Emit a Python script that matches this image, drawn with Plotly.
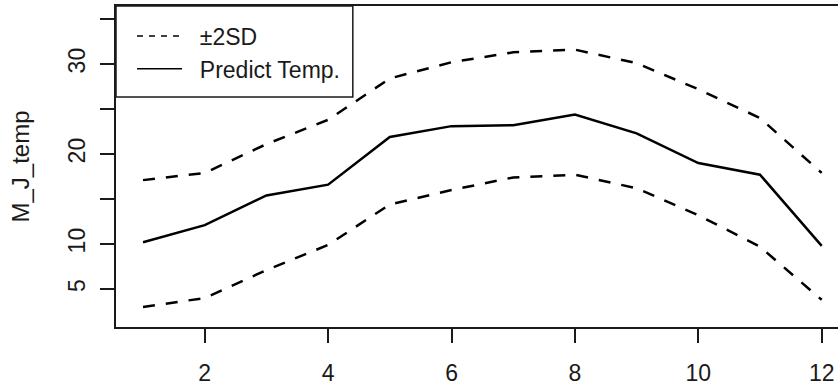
import plotly.graph_objects as go

months = [1, 2, 3, 4, 5, 6, 7, 8, 9, 10, 11, 12]
predict_temp = [10.2, 12.1, 15.4, 16.6, 21.9, 23.1, 23.2, 24.4, 22.3, 19.0, 17.7, 9.8]
upper_2sd = [17.1, 17.9, 21.1, 23.8, 28.4, 30.2, 31.3, 31.6, 30.1, 27.2, 24.0, 17.9]
lower_2sd = [3.0, 4.0, 7.1, 9.9, 14.4, 16.0, 17.4, 17.7, 16.2, 13.2, 9.7, 3.8]

x_ticks = [2, 4, 6, 8, 10, 12]
y_ticks = [5, 10, 15, 20, 25, 30, 35]
y_tick_text = ["5", "10", "", "20", "", "30", ""]

FONT = "Liberation Sans, Arial, sans-serif"
INK = "#1a1a1a"
NB = "\u00a0"
FS = 23

fig = go.Figure()
fig.add_trace(go.Scatter(x=months, y=upper_2sd, mode="lines", showlegend=False,
                         line=dict(color="black", width=2.5, dash="12px,11px")))
fig.add_trace(go.Scatter(x=months, y=lower_2sd, mode="lines", showlegend=False,
                         line=dict(color="black", width=2.5, dash="12px,11px")))
fig.add_trace(go.Scatter(x=months, y=predict_temp, mode="lines", showlegend=False,
                         line=dict(color="black", width=2.5)))
# legend entries
fig.add_trace(go.Scatter(x=[None], y=[None], mode="lines", name=NB * 2 + "±2SD",
                         line=dict(color="black", width=1.5, dash="6px,6px")))
fig.add_trace(go.Scatter(x=[None], y=[None], mode="lines", name=NB * 2 + "Predict Temp.",
                         line=dict(color="black", width=1.5)))

# legend frame (R style box in the top-left corner)
fig.add_shape(type="rect", xref="paper", yref="paper",
              x0=0, x1=0.328, y0=0.7165, y1=1,
              line=dict(color=INK, width=1.5), fillcolor="white", layer="above")

fig.update_layout(
    width=838, height=387,
    margin=dict(l=116, r=0, t=6, b=60),
    paper_bgcolor="white", plot_bgcolor="white",
    font=dict(family=FONT, size=FS, color=INK),
    showlegend=True,
    legend=dict(x=0.0222, y=0.9735, xanchor="left", yanchor="top",
                borderwidth=0, bgcolor="rgba(0,0,0,0)",
                font=dict(size=FS, color=INK), itemwidth=45,
                tracegroupgap=0),
    xaxis=dict(range=[0.562, 12.264], tickvals=x_ticks, ticks="outside", ticklen=14,
               tickwidth=1.5, tickcolor=INK, showline=True, linecolor=INK, linewidth=1.5,
               mirror=True, showgrid=False, zeroline=False,
               tickfont=dict(size=FS, color=INK), ticklabelstandoff=11),
    yaxis=dict(range=[0.78, 36.45], tickvals=y_ticks, ticktext=y_tick_text,
               ticks="outside", ticklen=14, tickwidth=1.5, tickcolor=INK,
               showline=True, linecolor=INK, linewidth=1.5, mirror=False,
               showgrid=False, zeroline=False, tickangle=-90,
               tickfont=dict(size=FS, color=INK), ticklabelstandoff=6,
               title=dict(text="M_J_temp", font=dict(size=24, color=INK), standoff=28)),
)

fig.write_html("out.html", config={"displayModeBar": False},
               post_script="document.body.style.margin='0';")
